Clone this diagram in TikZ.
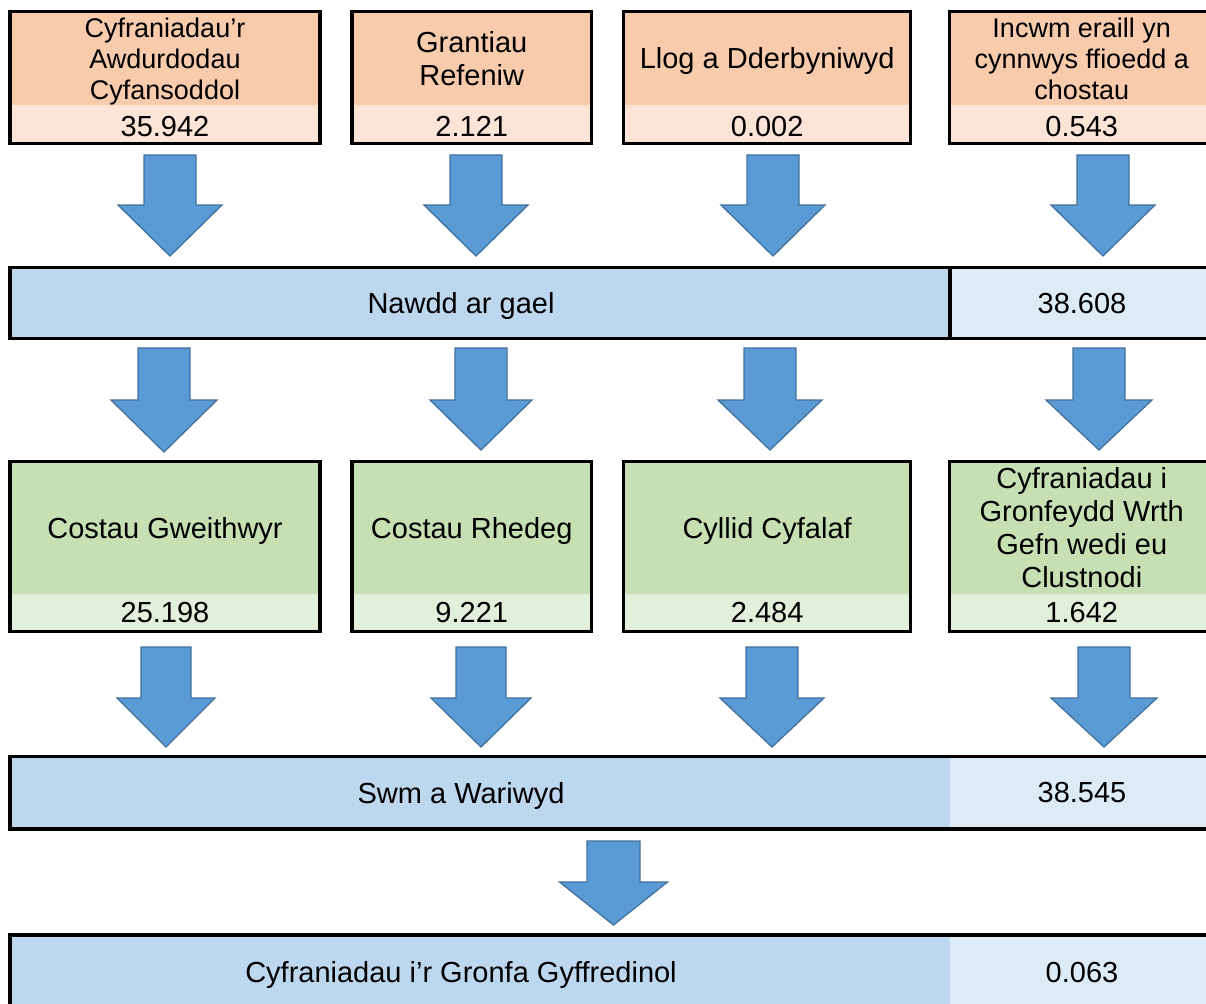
\documentclass[tikz,border=0pt]{standalone}
\usepackage{fontspec}
\setmainfont{Liberation Sans}
\definecolor{orH}{HTML}{F8CBAD}
\definecolor{orV}{HTML}{FCE4D6}
\definecolor{grH}{HTML}{C6E0B4}
\definecolor{grV}{HTML}{E2EFDA}
\definecolor{blL}{HTML}{BDD7EE}
\definecolor{blR}{HTML}{DDEBF7}
\definecolor{arF}{HTML}{5B9BD5}
\definecolor{arL}{HTML}{41719C}
\newcommand\blockarrow[6]{% cx, top, headstart, tip, shafthalf, headhalf
  \draw[blockarr] (#1-#5,#2) -- (#1+#5,#2) -- (#1+#5,#3) -- (#1+#6,#3) -- (#1,#4) -- (#1-#6,#3) -- (#1-#5,#3) -- cycle;}
\begin{document}
\begin{tikzpicture}[x=1pt,y=-1pt,
  cell/.style={inner sep=0pt, outer sep=0pt, draw=none, align=center, text depth=0pt, font=\fontsize{29}{33}\selectfont},
  small/.style={font=\fontsize{27}{31}\selectfont},
  txt/.style={inner sep=0pt, text depth=0pt, font=\fontsize{29}{33}\selectfont},
  frame/.style={line width=3.2pt, draw=black},
  blockarr/.style={fill=arF, draw=arL, line width=1.3pt, line join=miter}]
\clip (0,0) rectangle (1206,1003);
\fill[white] (0,0) rectangle (1206,1003);

% ---- top row (income) ----
\node[cell, small, fill=orH, minimum width=310pt, minimum height=93.3pt] (h1) at (165,58.35) {Cyfraniadau’r\\Awdurdodau\\Cyfansoddol};
\node[cell, fill=orV, minimum width=310pt, minimum height=38.7pt] (v1) at (165,124.35) {};
\node[txt] (t1) at (165,126) {35.942};
\node[cell, fill=orH, minimum width=239.5pt, minimum height=93.3pt] (h2) at (471.75,58.35) {Grantiau\\Refeniw};
\node[cell, fill=orV, minimum width=239.5pt, minimum height=38.7pt] (v2) at (471.75,124.35) {};
\node[txt] (t2) at (471.75,126) {2.121};
\node[cell, fill=orH, minimum width=287.3pt, minimum height=93.3pt] (h3) at (767.15,58.35) {Llog a Dderbyniwyd};
\node[cell, fill=orV, minimum width=287.3pt, minimum height=38.7pt] (v3) at (767.15,124.35) {};
\node[txt] (t3) at (767.15,126) {0.002};
\node[cell, small, fill=orH, minimum width=264.5pt, minimum height=93.3pt] (h4) at (1081.75,58.35) {Incwm eraill yn\\cynnwys ffioedd a\\chostau};
\node[cell, fill=orV, minimum width=264.5pt, minimum height=38.7pt] (v4) at (1081.75,124.35) {};
\node[txt] (t4) at (1081.75,126) {0.543};
\foreach \i in {1,2,3,4} {\draw[frame] (h\i.north west) rectangle (v\i.south east);}

% ---- arrows row 1 ----
\blockarrow{170}{155}{205}{256}{26}{52}
\blockarrow{476}{155}{205}{256}{26}{52}
\blockarrow{773}{155}{205}{256}{26}{52}
\blockarrow{1103}{155}{205}{256}{26}{52}

% ---- band 1 ----
\node[cell, fill=blL, minimum width=940pt, minimum height=71pt] (b1l) at (480,303.2) {};
\node[cell, fill=blR, minimum width=264pt, minimum height=71pt] (b1r) at (1082,303.2) {38.608};
\node[txt] (b1t) at (461,303.2) {Nawdd ar gael};
\draw[frame] (b1l.north west) rectangle (b1r.south east);
\draw[frame] (b1l.north east) -- (b1l.south east);

% ---- arrows row 2 ----
\blockarrow{164}{348}{400}{452}{26}{53}
\blockarrow{481}{348}{400}{450}{26}{51}
\blockarrow{770}{348}{400}{450}{26}{52}
\blockarrow{1099}{348}{400}{450}{26}{53}

% ---- green row (spending) ----
\node[cell, fill=grH, minimum width=310pt, minimum height=132.5pt] (g1) at (165,527.75) {Costau Gweithwyr};
\node[cell, fill=grV, minimum width=310pt, minimum height=37.5pt] (w1) at (165,612.75) {25.198};
\node[cell, fill=grH, minimum width=239.5pt, minimum height=132.5pt] (g2) at (471.75,527.75) {Costau Rhedeg};
\node[cell, fill=grV, minimum width=239.5pt, minimum height=37.5pt] (w2) at (471.75,612.75) {9.221};
\node[cell, fill=grH, minimum width=287.3pt, minimum height=132.5pt] (g3) at (767.15,527.75) {Cyllid Cyfalaf};
\node[cell, fill=grV, minimum width=287.3pt, minimum height=37.5pt] (w3) at (767.15,612.75) {2.484};
\node[cell, fill=grH, minimum width=264.5pt, minimum height=132.5pt] (g4) at (1081.75,527.75) {Cyfraniadau i\\Gronfeydd Wrth\\Gefn wedi eu\\Clustnodi};
\node[cell, fill=grV, minimum width=264.5pt, minimum height=37.5pt] (w4) at (1081.75,612.75) {1.642};
\foreach \i in {1,2,3,4} {\draw[frame] (g\i.north west) rectangle (w\i.south east);}

% ---- arrows row 3 ----
\blockarrow{166}{647}{698}{747}{25}{49}
\blockarrow{481}{647}{698}{747}{25}{50}
\blockarrow{772}{647}{698}{747}{26}{52}
\blockarrow{1104}{647}{698}{747}{26}{53}

% ---- band 2 ----
\node[cell, fill=blL, minimum width=940pt, minimum height=72.5pt] (b2l) at (480,792.75) {};
\node[cell, fill=blR, minimum width=264pt, minimum height=72.5pt] (b2r) at (1082,792.75) {38.545};
\node[txt] (b2t) at (461,792.75) {Swm a Wariwyd};
\draw[frame] (b2l.north west) rectangle (b2r.south east);

% ---- arrow row 4 ----
\blockarrow{613.5}{841}{882}{925}{26.5}{54}

% ---- band 3 ----
\node[cell, fill=blL, minimum width=940pt, minimum height=74pt] (b3l) at (480,972) {};
\node[cell, fill=blR, minimum width=264pt, minimum height=74pt] (b3r) at (1082,972) {0.063};
\node[txt] (b3t) at (461,972) {Cyfraniadau i’r Gronfa Gyffredinol};
\draw[frame] (b3l.north west) rectangle (b3r.south east);
\end{tikzpicture}
\end{document}
